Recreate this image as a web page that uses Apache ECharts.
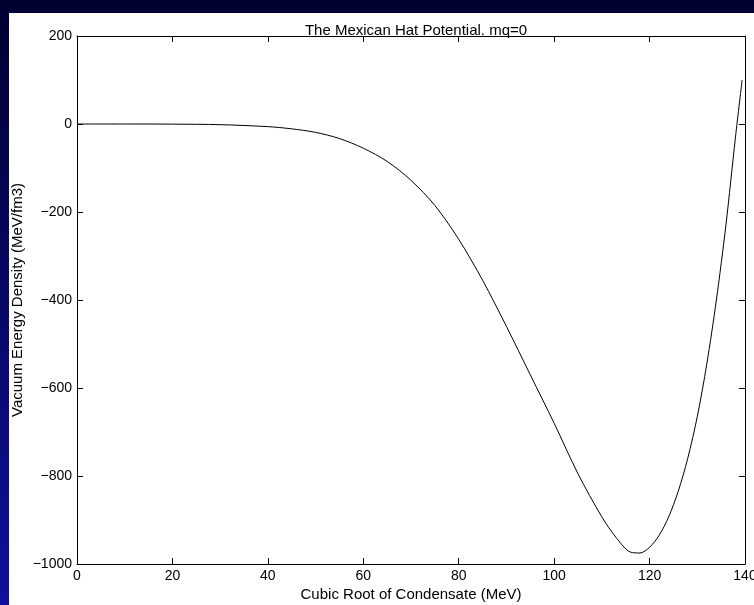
<!DOCTYPE html>
<html>
<head>
<meta charset="utf-8">
<script src="https://cdn.jsdelivr.net/npm/echarts@6/dist/echarts.min.js"></script>
<style>
html,body{margin:0;padding:0;width:754px;height:605px;overflow:hidden;}
#c{width:754px;height:605px;}
</style>
</head>
<body>
<div id="c"></div>
<script>
// Data
const xValues = [0, 10, 20, 30, 40, 45, 50, 55, 60, 65, 70, 75, 80, 85, 90, 95, 100, 105, 110, 113, 116, 118, 120, 122, 124, 126, 128, 130, 132, 134, 136, 138, 139.4];
const energy  = [0, 0, -0.3, -1.5, -6, -11, -19, -33, -55, -85, -128, -185, -262, -355, -460, -570, -680, -795, -893, -940, -973, -975, -962, -935, -893, -835, -760, -665, -545, -400, -230, -30, 100];
const xTicks = [0, 20, 40, 60, 80, 100, 120, 140];
const yTicks = [-1000, -800, -600, -400, -200, 0, 200];
const titleText = 'The Mexican Hat Potential. mq=0';
const xName = 'Cubic Root of Condensate (MeV)';
const yName = 'Vacuum Energy Density (MeV/fm3)';

const points = xValues.map((x, i) => [x, energy[i]]);
const font = 'Liberation Sans, Arial, Helvetica, sans-serif';
const fmt = v => (v < 0 ? '\u2212' + Math.abs(v) : String(v));

const chart = echarts.init(document.getElementById('c'), null, {renderer: 'canvas'});
const axisLine = {show: true, onZero: false, lineStyle: {color: '#000', width: 1}};
const tick = {show: true, inside: true, length: 6, lineStyle: {color: '#000', width: 1}};

chart.setOption({
  animation: false,
  backgroundColor: {
    type: 'linear', x: 0, y: 0, x2: 0, y2: 1,
    colorStops: [{offset: 0, color: '#000030'}, {offset: 1, color: '#10109c'}]
  },
  graphic: [{
    type: 'rect', z: -10, silent: true,
    shape: {x: 9, y: 13, width: 745, height: 592},
    style: {fill: '#ffffff'}
  }],
  title: {
    text: titleText, left: 411, top: 18, textAlign: 'center',
    textStyle: {fontFamily: font, fontSize: 15, fontWeight: 'normal', color: '#000'}
  },
  grid: {left: 77, top: 36, right: 9, bottom: 41, containLabel: false, outerBoundsMode: 'none'},
  xAxis: [{
    type: 'value', min: xTicks[0], max: xTicks[xTicks.length - 1], interval: 20,
    position: 'bottom',
    name: xName, nameLocation: 'middle', nameGap: 23, nameMoveOverlap: false,
    nameTextStyle: {fontFamily: font, fontSize: 15, color: '#000'},
    axisLine: axisLine, axisTick: tick,
    axisLabel: {fontFamily: font, fontSize: 14, color: '#000', margin: 5, formatter: fmt},
    splitLine: {show: false}
  }, {
    type: 'value', min: xTicks[0], max: xTicks[xTicks.length - 1], interval: 20,
    position: 'top', axisLine: axisLine, axisTick: tick,
    axisLabel: {show: false}, splitLine: {show: false}
  }],
  yAxis: [{
    type: 'value', min: yTicks[0], max: yTicks[yTicks.length - 1], interval: 200,
    position: 'left',
    name: yName, nameLocation: 'middle', nameGap: 52, nameMoveOverlap: false,
    nameTextStyle: {fontFamily: font, fontSize: 15, color: '#000'},
    axisLine: axisLine, axisTick: tick,
    axisLabel: {fontFamily: font, fontSize: 14, color: '#000', margin: 5, formatter: fmt},
    splitLine: {show: false}
  }, {
    type: 'value', min: yTicks[0], max: yTicks[yTicks.length - 1], interval: 200,
    position: 'right', axisLine: axisLine, axisTick: tick,
    axisLabel: {show: false}, splitLine: {show: false}
  }],
  series: [{
    type: 'line', data: points, smooth: 0.3, showSymbol: false,
    lineStyle: {color: '#000', width: 1}, clip: true
  }]
});
</script>
</body>
</html>
